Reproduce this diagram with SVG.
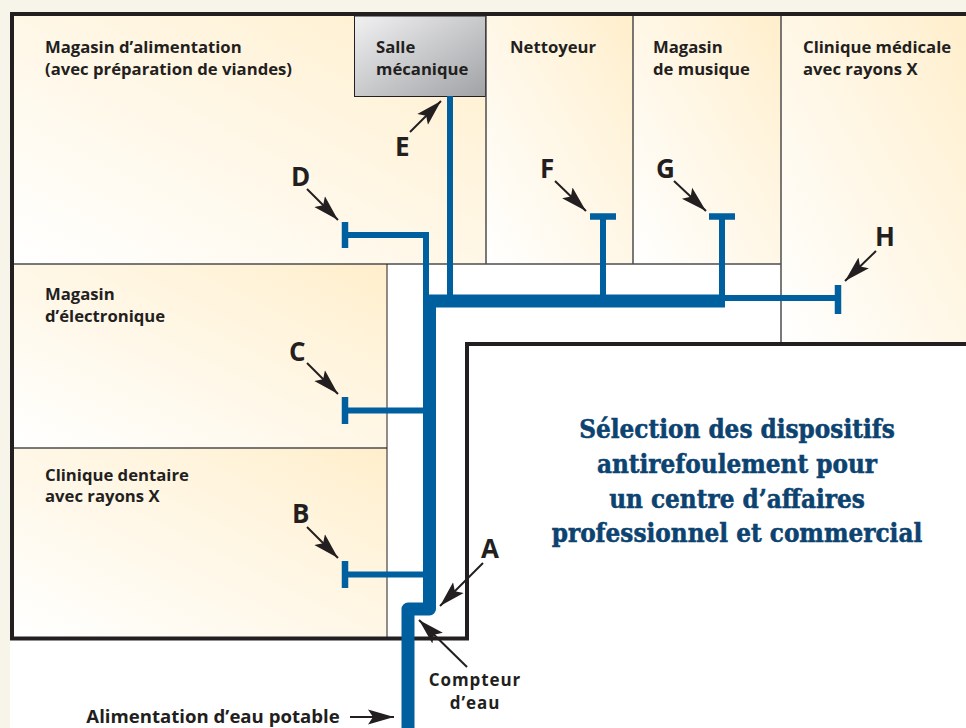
<svg xmlns="http://www.w3.org/2000/svg" width="966" height="728" viewBox="0 0 966 728">
<style>
.l{font:bold 16.7px "Open Sans","Noto Sans",sans-serif;fill:#231f20}
.b{font:bold 18.6px "Open Sans","Noto Sans",sans-serif;fill:#231f20;text-anchor:middle}
.c{font:bold 17px "Open Sans","Noto Sans",sans-serif;letter-spacing:.9px;fill:#231f20;text-anchor:middle}
.k{font:bold 26px "Open Sans","Noto Sans",sans-serif;fill:#231f20}
.t{font:bold 25.800px "DejaVu Serif Condensed","DejaVu Serif",serif;fill:#0c4370;stroke:#0c4370;stroke-width:.5px;text-anchor:middle}
.p{fill:none;stroke:#005f9f}
.w{stroke:#4d4d4d;stroke-width:1.5;fill:none}
.a{stroke:#231f20;stroke-width:2;fill:none;marker-end:url(#m)}
</style>
<defs>
<marker id="m" markerUnits="userSpaceOnUse" markerWidth="28" markerHeight="22" refX="26" refY="11" orient="auto"><path d="M0 3.500L5 11L0 18.500L26 11Z" fill="#231f20"/></marker>
<linearGradient id="r" x1="0" y1="1" x2="1" y2="0"><stop offset="0" stop-color="#fff"/><stop offset=".75" stop-color="#fff3da"/><stop offset="1" stop-color="#ffeecb"/></linearGradient>
<linearGradient id="g" x1="0" y1="0" x2="1" y2="1"><stop offset="0" stop-color="#f1f1f2"/><stop offset="1" stop-color="#a0a2a5"/></linearGradient>
</defs>
<rect width="966" height="728" fill="#fff"/>
<rect width="966" height="12" fill="#f7f5e9"/>
<rect width="10" height="728" fill="#f7f5e9"/>
<g id="magasin-alimentation"><rect x="14" y="16" width="472" height="248" fill="url(#r)"/><text class="l" x="45" y="53">Magasin d’alimentation</text><text class="l" x="45" y="75">(avec préparation de viandes)</text></g>
<g id="salle-mecanique"><rect x="354.500" y="16" width="131" height="80.500" fill="url(#g)" stroke="#231f20" stroke-width="1"/><text class="l" x="376" y="53">Salle</text><text class="l" x="376" y="75">mécanique</text></g>
<g id="nettoyeur"><rect x="486" y="16" width="147" height="248" fill="url(#r)"/><text class="l" x="510" y="53">Nettoyeur</text></g>
<g id="magasin-musique"><rect x="633" y="16" width="148" height="248" fill="url(#r)"/><text class="l" x="653" y="53">Magasin</text><text class="l" x="653" y="75">de musique</text></g>
<g id="clinique-medicale"><rect x="781" y="16" width="185" height="326" fill="url(#r)"/><text class="l" x="803" y="53">Clinique médicale</text><text class="l" x="803" y="75">avec rayons X</text></g>
<g id="magasin-electronique"><rect x="14" y="264" width="373" height="184" fill="url(#r)"/><text class="l" x="45" y="300">Magasin</text><text class="l" x="45" y="322">d’électronique</text></g>
<g id="clinique-dentaire"><rect x="14" y="448" width="373" height="190" fill="url(#r)"/><text class="l" x="45" y="481">Clinique dentaire</text><text class="l" x="45" y="502">avec rayons X</text></g>
<g id="walls">
<path class="w" d="M14 264H781M486 16V264M633 16V264M781 16V342M14 448H387"/>
<path d="M387 264V637" fill="none" stroke="#231f20" stroke-width="1"/>
<path d="M966 344H467V638.500H12V14H966" fill="none" stroke="#231f20" stroke-width="4"/>
</g>
<g id="connectors">
<path class="p" stroke-width="13" stroke-linejoin="round" d="M408 728V609H429.500V597"/>
<path class="p" stroke-width="13" d="M429.500 600V301H725"/>
<path class="p" stroke-width="6" d="M450 96V297M603 216V297M722 216V297M345 235H426V297M345 410.500H426M345 574.500H426M720 298H838"/>
<path class="p" stroke-width="6.500" d="M345 222V248M345 397V424M345 561V588M590 216.500H616M709 216.500H735M838 285V314"/>
<path class="a" d="M307 189L338 220"/><path class="a" d="M307 363L338 394"/><path class="a" d="M307 527L338 558"/>
<path class="a" d="M410 132L441 101"/><path class="a" d="M555 181L586 211"/><path class="a" d="M674 181L706 211"/><path class="a" d="M876 251L845 281"/>
<path class="a" d="M483 563L440 606"/><path class="a" d="M467 667L419 620"/><path class="a" d="M350 717H394"/>
</g>
<g id="labels">
<text class="k" x="291" y="186">D</text><text class="k" x="395" y="156">E</text><text class="k" x="540" y="178">F</text><text class="k" x="656" y="178">G</text><text class="k" x="875" y="246">H</text><text class="k" x="289" y="361">C</text><text class="k" x="292" y="523">B</text><text class="k" x="481" y="558">A</text>
<text class="c" x="475" y="686">Compteur</text><text class="c" x="475" y="709">d’eau</text>
<text class="b" x="213" y="723">Alimentation d’eau potable</text>
</g>
<g id="title"><text class="t" x="737" y="438">Sélection des dispositifs</text><text class="t" x="737" y="473">antirefoulement pour</text><text class="t" x="737" y="508">un centre d’affaires</text><text class="t" x="737" y="542">professionnel et commercial</text></g>
</svg>
